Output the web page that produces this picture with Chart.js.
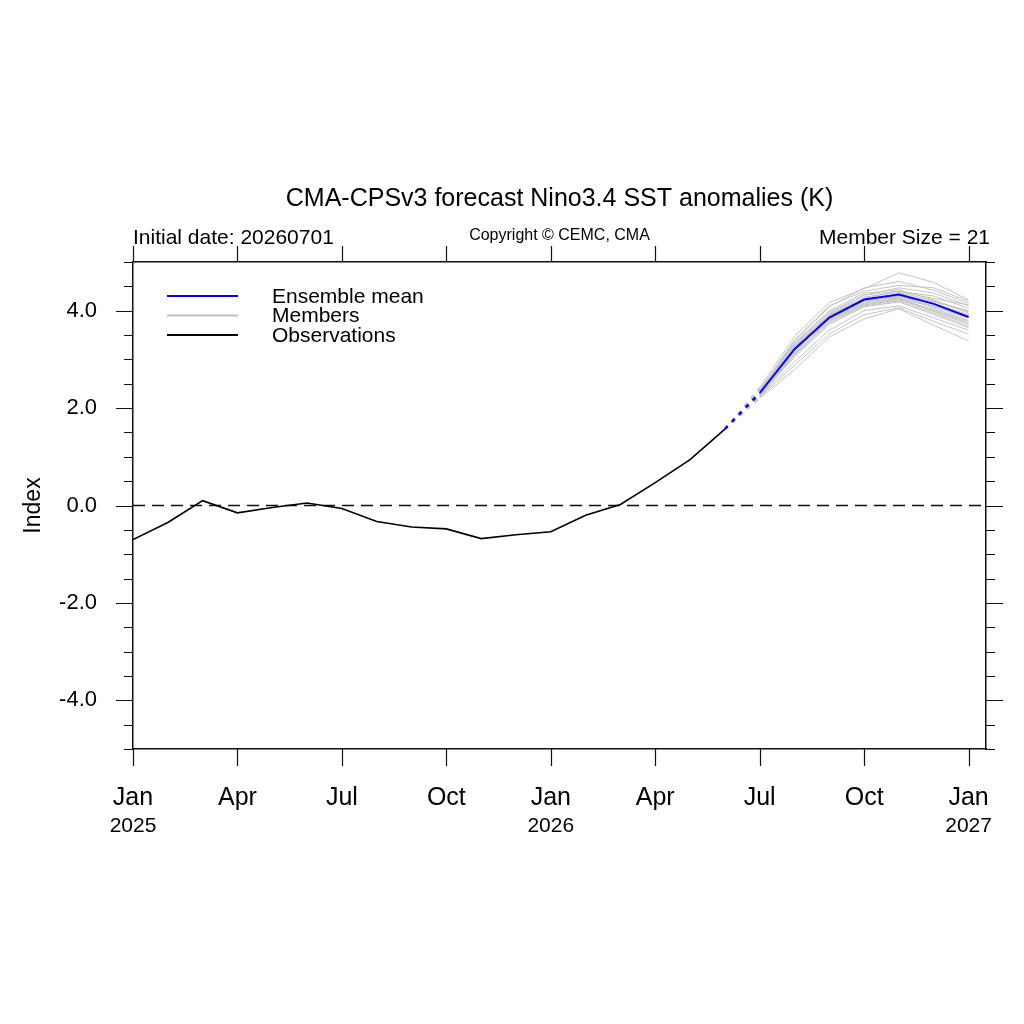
<!DOCTYPE html>
<html>
<head>
<meta charset="utf-8">
<title>CMA-CPSv3 Nino3.4 forecast</title>
<script src="https://cdn.jsdelivr.net/npm/chart.js@4.4.1/dist/chart.umd.min.js"></script>
<style>
  html, body { margin: 0; padding: 0; background: #fff; }
  #wrap { width: 1024px; height: 1024px; }
</style>
</head>
<body>
<div id="wrap"><canvas id="nino" width="1024" height="1024"></canvas></div>
<script>
const FONT = '"Liberation Sans", Arial, Helvetica, sans-serif';

// month index: 0 = Jan 2025 ... 24 = Jan 2027
const obsValues = [-0.70, -0.35, 0.10, -0.15, -0.04, 0.05, -0.06, -0.33, -0.44, -0.48,
                   -0.68, -0.60, -0.54, -0.20, 0.02, 0.47, 0.94, 1.57];
const forecastStart = 18; // Jul 2026
const meanValues = [2.31, 3.21, 3.86, 4.23, 4.33, 4.14, 3.87];
const members = [
  [2.42, 3.47, 4.17, 4.45, 4.78, 4.58, 4.22],
  [2.35, 3.38, 4.08, 4.47, 4.60, 4.42, 4.15],
  [2.38, 3.32, 3.97, 4.32, 4.47, 4.36, 4.10],
  [2.30, 3.28, 3.90, 4.25, 4.40, 4.30, 4.05],
  [2.33, 3.25, 3.92, 4.28, 4.38, 4.20, 4.00],
  [2.36, 3.34, 4.00, 4.36, 4.43, 4.22, 3.95],
  [2.28, 3.22, 3.88, 4.22, 4.35, 4.18, 3.98],
  [2.32, 3.18, 3.85, 4.20, 4.30, 4.15, 3.92],
  [2.30, 3.20, 3.84, 4.18, 4.28, 4.10, 3.88],
  [2.27, 3.15, 3.82, 4.15, 4.25, 4.08, 3.85],
  [2.34, 3.26, 3.90, 4.24, 4.32, 4.05, 3.80],
  [2.29, 3.12, 3.78, 4.12, 4.22, 4.00, 3.75],
  [2.31, 3.23, 3.86, 4.20, 4.26, 3.98, 3.72],
  [2.26, 3.08, 3.75, 4.10, 4.20, 3.95, 3.68],
  [2.25, 3.05, 3.72, 4.08, 4.18, 3.92, 3.65],
  [2.28, 3.10, 3.80, 4.14, 4.24, 4.02, 3.78],
  [2.24, 2.95, 3.60, 4.00, 4.10, 3.85, 3.60],
  [2.22, 2.88, 3.52, 3.92, 4.06, 3.78, 3.52],
  [2.20, 2.79, 3.46, 3.83, 4.04, 3.70, 3.38],
  [2.37, 3.40, 4.10, 4.40, 4.52, 4.47, 4.19],
  [2.32, 3.30, 3.94, 4.32, 4.40, 4.25, 4.12]
];

const xMin = 0, xMax = 24.5;
const xTickMonths = [0, 3, 6, 9, 12, 15, 18, 21, 24];
const xTickLabels = ['Jan', 'Apr', 'Jul', 'Oct', 'Jan', 'Apr', 'Jul', 'Oct', 'Jan'];
const yearMonths = [0, 12, 24];
const yearLabels = ['2025', '2026', '2027'];
const yMin = -5, yMax = 5;
const yLabelTicks = [-4, -2, 0, 2, 4];
const yMarkTicks = [-5, -4.5, -4, -3.5, -3, -2.5, -2, -1.5, -1, -0.5, 0,
                    0.5, 1, 1.5, 2, 2.5, 3, 3.5, 4, 4.5, 5];

const titleText = 'CMA-CPSv3 forecast Nino3.4 SST anomalies (K)';
const leftInfo = 'Initial date: 20260701';
const centerInfo = 'Copyright \u00A9 CEMC, CMA';
const rightInfo = 'Member Size = ' + members.length;
const legendItems = [
  { label: 'Ensemble mean', color: '#0000ff', width: 2 },
  { label: 'Members', color: '#c0c0c0', width: 2 },
  { label: 'Observations', color: '#000000', width: 2 }
];

const toPoints = (vals, start) => vals.map((v, i) => ({ x: start + i, y: v }));
const lastObs = obsValues.length - 1;

const datasets = [];
datasets.push({
  label: 'Ensemble mean', data: toPoints(meanValues, forecastStart),
  borderColor: '#0000ff', borderWidth: 2, order: 0
});
datasets.push({
  label: 'mean link', data: [{ x: lastObs, y: obsValues[lastObs] }, { x: forecastStart, y: meanValues[0] }],
  borderColor: '#0000ff', borderWidth: 2.5, borderDash: [4, 6], order: 1
});
datasets.push({
  label: 'Observations', data: toPoints(obsValues, 0),
  borderColor: '#000000', borderWidth: 1.6, order: 2
});
members.forEach((m, k) => {
  datasets.push({
    label: 'Member ' + (k + 1), data: toPoints(m, forecastStart),
    borderColor: '#c4c4c4', borderWidth: 1, order: 4
  });
  datasets.push({
    label: 'member link', data: [{ x: lastObs, y: obsValues[lastObs] }, { x: forecastStart, y: m[0] }],
    borderColor: '#c4c4c4', borderWidth: 1.5, borderDash: [4, 6], order: 3
  });
});
datasets.push({
  label: 'zero', data: [{ x: xMin, y: 0 }, { x: xMax, y: 0 }],
  borderColor: '#111', borderWidth: 1.5, borderDash: [12, 7], order: 5
});

const decorations = {
  id: 'decorations',
  afterDraw(chart) {
    const ctx = chart.ctx;
    const xs = chart.scales.x, ys = chart.scales.y;
    const a = chart.chartArea;
    ctx.save();
    ctx.strokeStyle = '#111';
    ctx.lineWidth = 1.2;
    ctx.beginPath();
    xTickMonths.forEach(m => {
      const px = Math.round(xs.getPixelForValue(m)) + 0.5;
      ctx.moveTo(px, a.bottom); ctx.lineTo(px, a.bottom + 17);
      ctx.moveTo(px, a.top); ctx.lineTo(px, a.top - 16);
    });
    yMarkTicks.forEach(v => {
      const py = Math.round(ys.getPixelForValue(v)) + 0.5;
      const len = v % 2 === 0 ? 17 : 9;
      ctx.moveTo(a.left - len, py); ctx.lineTo(a.left, py);
      ctx.moveTo(a.right, py); ctx.lineTo(a.right + len, py);
    });
    ctx.stroke();

    ctx.fillStyle = '#000';
    ctx.textBaseline = 'alphabetic';
    ctx.textAlign = 'center';
    ctx.font = '25px ' + FONT;
    ctx.fillText(titleText, (a.left + a.right) / 2, 206);
    ctx.font = '16px ' + FONT;
    ctx.fillText(centerInfo, (a.left + a.right) / 2, 240);
    ctx.font = '21px ' + FONT;
    ctx.textAlign = 'left';
    ctx.fillText(leftInfo, a.left, 244);
    ctx.textAlign = 'right';
    ctx.fillText(rightInfo, a.right + 4, 244);

    ctx.textAlign = 'center';
    ctx.font = '21px ' + FONT;
    yearMonths.forEach((m, i) => {
      ctx.fillText(yearLabels[i], xs.getPixelForValue(m), 832);
    });

    ctx.save();
    ctx.translate(40, (a.top + a.bottom) / 2);
    ctx.rotate(-Math.PI / 2);
    ctx.font = '23px ' + FONT;
    ctx.fillText('Index', 0, 0);
    ctx.restore();

    ctx.font = '21px ' + FONT;
    ctx.textAlign = 'left';
    ctx.textBaseline = 'middle';
    legendItems.forEach((it, i) => {
      const ly = 296 + i * 19.5;
      ctx.strokeStyle = it.color;
      ctx.lineWidth = it.width;
      ctx.beginPath();
      ctx.moveTo(167, ly); ctx.lineTo(238, ly);
      ctx.stroke();
      ctx.fillText(it.label, 272, ly + 1);
    });
    ctx.restore();
  }
};

new Chart(document.getElementById('nino'), {
  type: 'line',
  data: { datasets },
  options: {
    responsive: false,
    animation: false,
    devicePixelRatio: 1,
    layout: { padding: 0 },
    elements: { point: { radius: 0 }, line: { tension: 0, fill: false } },
    plugins: { legend: { display: false }, tooltip: { enabled: false }, title: { display: false } },
    scales: {
      x: {
        type: 'linear', position: 'bottom', min: xMin, max: xMax,
        afterBuildTicks: s => { s.ticks = xTickMonths.map(v => ({ value: v })); },
        afterFit: s => { s.height = 1024 - 749; },
        ticks: {
          callback: (v, i) => xTickLabels[i],
          autoSkip: false, maxRotation: 0, padding: 17,
          color: '#000', font: { family: FONT, size: 25 }
        },
        grid: { display: true, drawOnChartArea: false, color: 'rgba(0,0,0,0)', tickLength: 17 },
        border: { display: true, color: '#111', width: 1.5 }
      },
      xTop: {
        type: 'linear', position: 'top', min: xMin, max: xMax,
        afterFit: s => { s.height = 262; },
        ticks: { display: false },
        grid: { display: false },
        border: { display: true, color: '#111', width: 1.5 }
      },
      y: {
        type: 'linear', position: 'left', min: yMin, max: yMax,
        afterBuildTicks: s => { s.ticks = yLabelTicks.map(v => ({ value: v })); },
        afterFit: s => { s.width = 133; },
        ticks: {
          callback: v => v.toFixed(1),
          padding: 19, color: '#000', font: { family: FONT, size: 22 }
        },
        grid: { display: true, drawOnChartArea: false, color: 'rgba(0,0,0,0)', tickLength: 17 },
        border: { display: true, color: '#111', width: 1.5 }
      },
      yRight: {
        type: 'linear', position: 'right', min: yMin, max: yMax,
        afterFit: s => { s.width = 1024 - 986; },
        ticks: { display: false },
        grid: { display: false },
        border: { display: true, color: '#111', width: 1.5 }
      }
    }
  },
  plugins: [decorations]
});
</script>
</body>
</html>
